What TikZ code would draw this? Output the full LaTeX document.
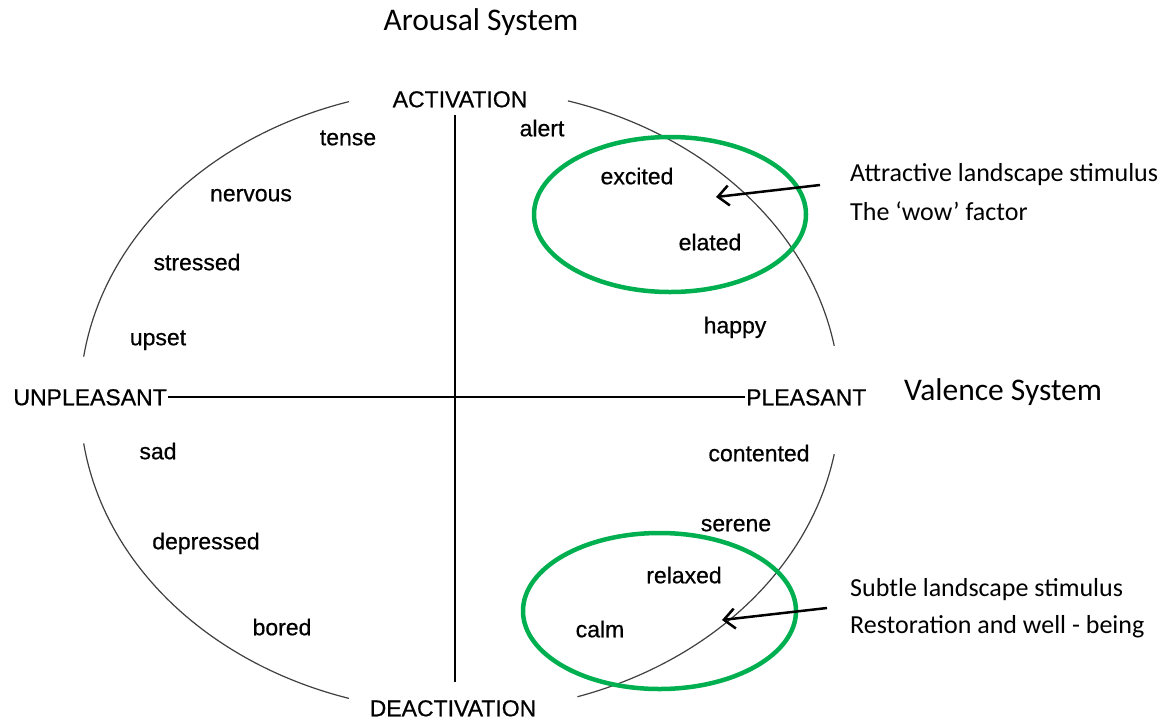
\documentclass[tikz,border=0pt]{standalone}
\usepackage{fontspec}
\setmainfont{Liberation Sans}
\newfontfamily\labelfont{Liberation Sans}[FakeBold=0.6]
\newfontfamily\calfont{Carlito}
\usetikzlibrary{arrows.meta}
\definecolor{ringgreen}{RGB}{0,176,80}

\begin{document}
\begin{tikzpicture}[x=1pt,y=1pt,>={Straight Barb[length=11pt,width=20pt]},
  word/.style={font=\labelfont\fontsize{23}{27}\selectfont, inner sep=1pt, text height=16.5pt, text depth=0pt},
  note/.style={font=\calfont\fontsize{26}{30}\selectfont, anchor=west, inner sep=0pt},
  title/.style={font=\calfont\fontsize{31.5}{36}\selectfont, inner sep=0pt},
  ring/.style={ringgreen, line width=4.5pt},
  rim/.style={black!75, line width=1.2pt},
  axis/.style={line width=2pt}]
\fill[white] (0,0) rectangle (1162,-721);
\useasboundingbox (0,0) rectangle (1162,-721);
\coordinate (ctr) at (460,-400);

% outer ellipse, broken at the four poles
\draw[rim] (ctr) ++(107:380 and 312) arc[start angle=107, end angle=172, x radius=380, y radius=312];
\draw[rim] (ctr) ++(10:380 and 312) arc[start angle=10, end angle=73.5, x radius=380, y radius=312];
\draw[rim] (ctr) ++(188:380 and 312) arc[start angle=188, end angle=253, x radius=380, y radius=312];
\draw[rim] (ctr) ++(288:380 and 312) arc[start angle=288, end angle=350, x radius=380, y radius=312];

% poles
\node[word] (act) at (460,-99) {ACTIVATION};
\node[word] (deact) at (453,-708) {DEACTIVATION};
\node[word, anchor=east] (unpl) at (168,-397) {UNPLEASANT};
\node[word, anchor=west] (pls) at (745,-397) {PLEASANT};
\coordinate (vtop) at (455,-115);
\coordinate (vbot) at (455,-682);
\draw[axis] (vtop) -- (vbot);
\draw[axis] (unpl.east) -- (pls.west);

% affect words
\node[word] (tense) at (348,-137) {tense};
\node[word] (nervous) at (251,-193) {nervous};
\node[word] (stressed) at (197,-262) {stressed};
\node[word] (upset) at (158,-337) {upset};
\node[word] (alert) at (542,-128) {alert};
\node[word] (excited) at (637,-176) {excited};
\node[word] (elated) at (710,-242) {elated};
\node[word] (happy) at (735,-325) {happy};
\node[word] (sad) at (158,-451) {sad};
\node[word] (depressed) at (206,-541) {depressed};
\node[word] (bored) at (282,-627) {bored};
\node[word] (contented) at (759,-453) {contented};
\node[word] (serene) at (736,-523) {serene};
\node[word] (relaxed) at (684,-575) {relaxed};
\node[word] (calm) at (600,-629) {calm};

% green rings
\draw[ring] (670,-214.5) ellipse[x radius=136, y radius=77.5];
\draw[ring] (659.5,-611) ellipse[x radius=136.5, y radius=78];

% titles and notes
\node[title] (arousal) at (481,-22) {Arousal System};
\node[title, anchor=west] (valence) at (904,-392) {Valence System};
\node[note] (attr) at (850,-175) {Attractive landscape stimulus};
\node[note] (wow) at (850,-211) {The ‘wow’ factor};
\node[note] (subtle) at (850,-590) {Subtle landscape stimulus};
\node[note] (resto) at (850,-627) {Restoration and well - being};

\coordinate (aTail) at (820,-185);
\coordinate (aTip) at (716,-197);
\coordinate (bTail) at (827,-608);
\coordinate (bTip) at (722,-620);
\draw[->, line width=2.5pt] (aTail) -- (aTip);
\draw[->, line width=2.5pt] (bTail) -- (bTip);
\end{tikzpicture}
\end{document}
